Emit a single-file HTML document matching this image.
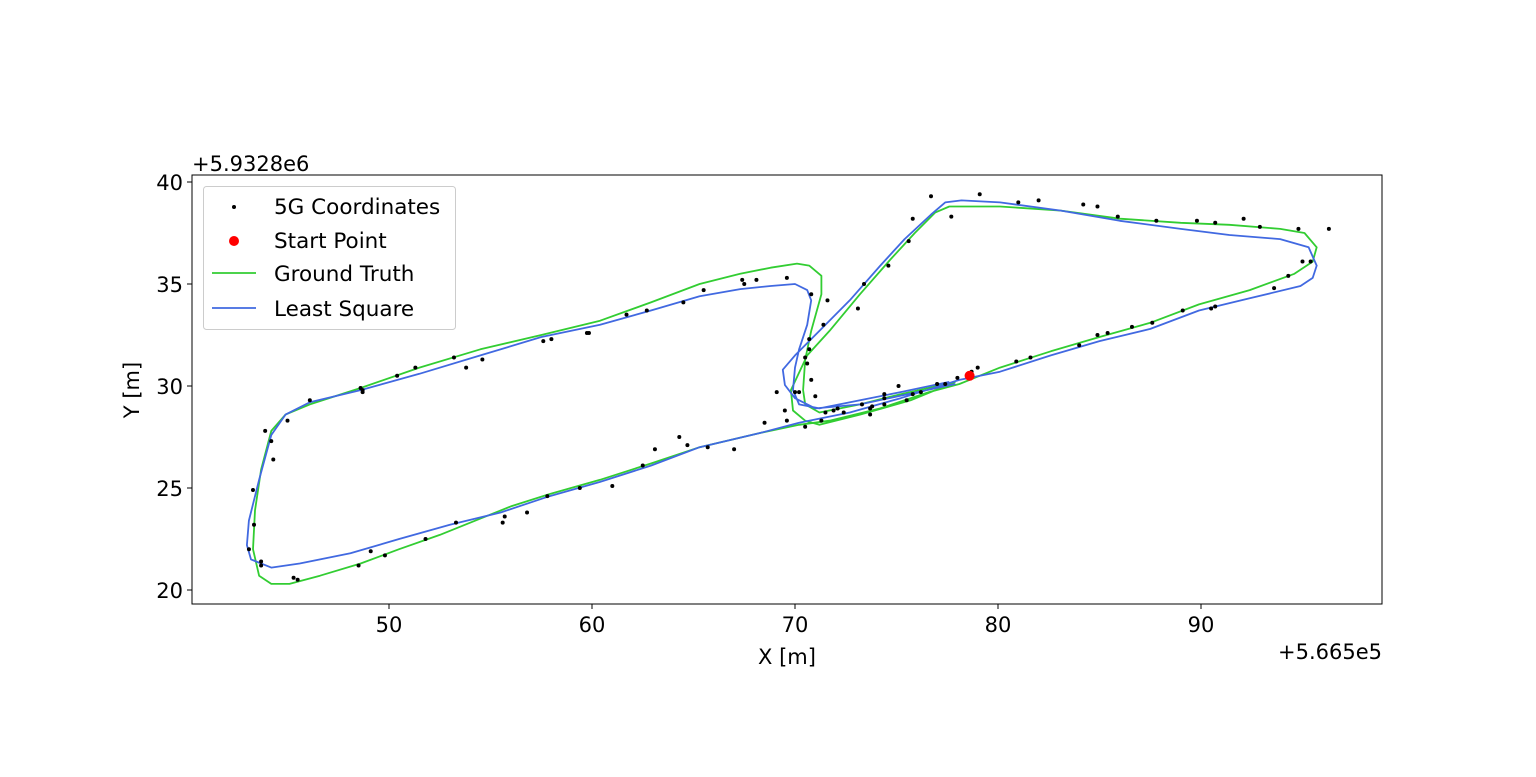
<!DOCTYPE html>
<html><head><meta charset="utf-8"><style>
body{margin:0;background:#fff}
svg text{font-family:"DejaVu Sans","Liberation Sans",sans-serif;fill:#000}
</style></head><body>
<svg id="chart" width="1536" height="772" viewBox="0 0 1536 772" xmlns="http://www.w3.org/2000/svg">
<rect width="1536" height="772" fill="#fff"/>
<g id="plot"></g>
</svg>
<script>
const xTicks=[50,60,70,80,90];
const yTicks=[20,25,30,35,40];
const gtX=[77.9,75.2,73.2,71.2,70.5,70.4,70.5,70.8,71.3,71.3,70.7,70.1,68.8,67.3,65.3,62.9,60.4,57.5,54.5,51.5,48.6,46.1,44.9,44.2,43.7,43.4,43.3,43.6,44.2,45.1,46.6,48.6,50.5,52.5,54.5,56.0,57.9,60.4,62.9,65.3,68.3,70.2,71.7,74.2,76.6,78.1,80.1,82.6,85.0,87.5,89.9,92.4,94.6,95.5,95.7,95.1,93.9,91.4,89.0,86.0,83.1,80.1,77.6,76.9,75.9,74.7,73.2,71.7,70.6,69.8,69.9,70.5,71.2,73.2,75.7,77.9];
const gtY=[30.2,29.6,29.1,28.7,29.1,29.8,31.3,32.7,34.5,35.4,35.9,36.0,35.8,35.5,35.0,34.1,33.2,32.5,31.8,30.9,29.9,29.1,28.6,27.8,25.9,23.9,22.0,20.7,20.3,20.3,20.7,21.3,22.0,22.7,23.5,24.1,24.7,25.4,26.2,27.0,27.7,28.1,28.3,28.9,29.7,30.1,30.9,31.7,32.4,33.1,34.0,34.7,35.5,36.1,36.8,37.5,37.7,37.9,38.0,38.2,38.6,38.8,38.8,38.5,37.5,36.2,34.5,32.7,31.5,29.8,28.8,28.3,28.1,28.6,29.3,30.2];
const lsX=[77.6,75.2,73.2,71.2,70.2,69.9,70.0,70.2,70.6,70.8,70.6,70.0,68.8,67.3,65.3,62.9,60.4,57.5,54.5,51.5,48.6,46.1,44.9,44.2,43.6,43.1,43.0,43.2,44.2,45.6,48.1,50.5,53.0,55.5,57.9,60.4,62.9,65.3,68.3,70.2,72.7,75.2,78.1,80.1,82.6,85.0,87.5,89.9,92.4,94.9,95.5,95.7,95.3,93.9,91.4,89.0,86.0,83.1,80.1,78.2,77.4,76.7,75.4,74.2,72.7,71.2,70.0,69.4,69.5,70.0,71.0,73.2,77.9];
const lsY=[30.2,29.7,29.3,28.9,29.1,29.8,30.9,31.8,33.0,34.2,34.7,35.0,34.9,34.75,34.4,33.7,33.0,32.4,31.5,30.6,29.8,29.2,28.6,27.6,25.4,23.4,22.2,21.5,21.1,21.3,21.8,22.5,23.2,23.8,24.6,25.3,26.1,27.0,27.7,28.2,28.7,29.4,30.3,30.7,31.5,32.2,32.8,33.7,34.3,34.9,35.3,35.9,36.8,37.2,37.4,37.7,38.1,38.6,39.0,39.1,39.0,38.4,37.2,35.9,34.2,32.7,31.5,30.8,30.05,29.4,28.9,29.1,30.1];
const dotX=[43.3,43.35,43.1,43.7,43.7,45.3,45.5,48.5,49.1,49.8,51.8,53.3,55.6,55.7,56.8,57.8,59.4,61.0,62.5,63.1,64.3,64.7,65.7,67.0,68.5,69.1,69.5,69.6,70.0,70.5,70.8,71.3,71.0,71.5,71.9,72.1,72.4,73.1,73.3,73.7,73.7,73.8,74.4,74.4,74.4,75.1,75.5,75.8,76.2,77.0,77.4,78.0,78.7,79.0,80.9,81.6,84.0,84.9,85.4,86.6,87.6,89.1,90.7,90.5,93.6,94.3,95.0,95.4,96.3,94.8,92.9,92.1,90.7,89.8,87.8,85.9,84.9,84.2,82.0,81.0,79.1,77.7,76.7,75.8,75.6,74.6,73.4,71.6,71.4,70.8,70.7,70.5,70.6,70.7,70.2,69.6,68.1,67.5,67.4,65.5,64.5,62.7,61.7,59.85,59.75,58.0,57.6,54.6,53.8,53.2,51.3,50.4,48.7,48.6,48.7,46.1,45.0,43.9,44.2,44.3];
const dotY=[24.9,23.2,22.0,21.4,21.2,20.6,20.5,21.2,21.9,21.7,22.5,23.3,23.3,23.6,23.8,24.6,25.0,25.1,26.1,26.9,27.5,27.1,27.0,26.9,28.2,29.7,28.8,28.3,29.7,28.0,30.3,28.3,29.5,28.7,28.8,28.9,28.7,33.8,29.1,28.9,28.6,29.0,29.4,29.6,29.1,30.0,29.3,29.6,29.7,30.1,30.1,30.4,30.7,30.9,31.2,31.4,32.0,32.5,32.6,32.9,33.1,33.7,33.9,33.8,34.8,35.4,36.1,36.1,37.7,37.7,37.8,38.2,38.0,38.1,38.1,38.3,38.8,38.9,39.1,39.0,39.4,38.3,39.3,38.2,37.1,35.9,35.0,34.2,33.0,34.5,32.3,31.4,31.1,31.8,29.7,35.3,35.2,35.0,35.2,34.7,34.1,33.7,33.5,32.6,32.6,32.3,32.2,31.3,30.9,31.4,30.9,30.5,29.8,29.9,29.7,29.3,28.3,27.8,27.3,26.4];
const startX=[78.6];
const startY=[30.5];

const L=192,R=1382,T=175,B=604;
function sx(v){return 389+(v-50)*20.3;}
function sy(v){return 590-(v-20)*20.4;}
const NS='http://www.w3.org/2000/svg';
const g=document.getElementById('plot');
function mk(tag,attrs,parent){const e=document.createElementNS(NS,tag);for(const k in attrs)e.setAttribute(k,attrs[k]);(parent||g).appendChild(e);return e;}

const frame=mk('rect',{x:L,y:T,width:R-L,height:B-T,fill:'none',stroke:'#000','stroke-width':1});



xTicks.forEach(t=>{
  const x=sx(t);
  const tk=mk('line',{x1:x,x2:x,y1:B,y2:B+5,stroke:'#000'});
  
  
  const tx=mk('text',{x:x,y:B+28,'text-anchor':'middle','font-size':21});
  tx.textContent=t;
  
  
});
yTicks.forEach(t=>{
  const y=sy(t);
  const tk=mk('line',{x1:L-5,x2:L,y1:y,y2:y,stroke:'#000'});
  
  
  const tx=mk('text',{x:L-9,y:y+8,'text-anchor':'end','font-size':21});
  tx.textContent=t;
  
  
});

function line(xs,ys,color,name){
  const d=xs.map((v,i)=>(i?'L':'M')+sx(v).toFixed(1)+','+sy(ys[i]).toFixed(1)).join(' ');
  const p=mk('path',{d:d,fill:'none',stroke:color,'stroke-width':1.8,'stroke-linejoin':'round'});
  
  
}
line(gtX,gtY,'#32cd32','ground-truth-line');
line(lsX,lsY,'#4169e1','least-square-line');
dotX.forEach((v,i)=>{
  const c=mk('circle',{cx:sx(v),cy:sy(dotY[i]),r:2,fill:'#000'});
  
  
});
startX.forEach((v,i)=>{
  const c=mk('circle',{cx:sx(v),cy:sy(startY[i]),r:5,fill:'#ff0000'});
  
  
});

function txt(s,attrs,name){const t=mk('text',attrs);t.textContent=s;return t;}
txt('X [m]',{x:787,y:664,'text-anchor':'middle','font-size':21},'x-axis-title');
txt('Y [m]',{x:139,y:390,'text-anchor':'middle','font-size':21,transform:'rotate(-90 139 390)'},'y-axis-title');
txt('+5.9328e6',{x:192,y:171,'font-size':21},'y-offset-label');
txt('+5.665e5',{x:1382,y:659,'text-anchor':'end','font-size':21},'x-offset-label');

const lg=mk('g',{});


mk('rect',{x:203.5,y:186.5,width:252,height:143,rx:3,fill:'#fff','fill-opacity':0.8,stroke:'#ccc'},lg);
const e1=mk('circle',{cx:234,cy:207,r:2,fill:'#000'},lg);


const e2=mk('circle',{cx:234,cy:241,r:5,fill:'#ff0000'},lg);


const e3=mk('line',{x1:212,x2:256,y1:273,y2:273,stroke:'#32cd32','stroke-width':1.8},lg);


const e4=mk('line',{x1:212,x2:256,y1:308,y2:308,stroke:'#4169e1','stroke-width':1.8},lg);


const labels=['5G Coordinates','Start Point','Ground Truth','Least Square'];
const ly=[214,248,281,316];
labels.forEach((s,i)=>{
  const t=mk('text',{x:274,y:ly[i],'font-size':21.5},lg);
  t.textContent=s;
  
  
});
</script>
</body></html>
